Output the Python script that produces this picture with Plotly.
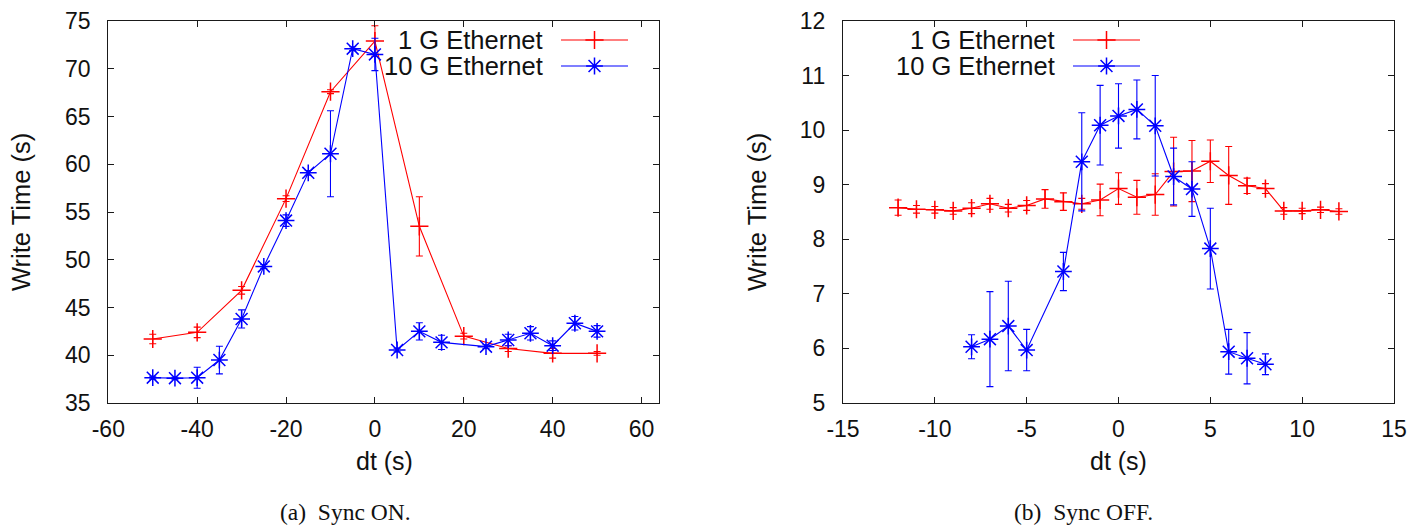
import plotly.graph_objects as go

# ---------------- data: (a) Sync ON ----------------
on_1g_dt = [-50, -40, -30, -20, -10, 0, 10, 20, 30, 40, 50]
on_1g_t = [41.7, 42.4, 46.8, 56.4, 67.6, 72.9, 53.5, 42.0, 40.7, 40.2, 40.2]
on_1g_err = [0.5, 0.55, 0.4, 0.3, 0.2, 1.6, 3.1, 0.3, 0.3, 0.5, 0.2]

on_10g_dt = [-50, -45, -40, -35, -30, -25, -20, -15, -10, -5, 0, 5, 10, 15, 25, 30, 35, 40, 45, 50]
on_10g_t = [37.65, 37.6, 37.65, 39.5, 43.8, 49.3, 54.1, 59.1, 61.1, 72.1, 71.5, 40.55, 42.5, 41.35,
            40.9, 41.6, 42.3, 41.0, 43.35, 42.5]
on_10g_err = [0.15, 0.1, 1.1, 1.45, 0.95, 0.2, 0.6, 0.25, 4.5, 0.2, 1.7, 0.2, 0.9, 0.75,
              0.2, 0.6, 0.7, 0.5, 0.7, 0.6]

# ---------------- data: (b) Sync OFF ----------------
off_1g_dt = list(range(-12, 13))
off_1g_t = [8.58, 8.55, 8.54, 8.52, 8.57, 8.65, 8.57, 8.62, 8.74, 8.69, 8.65, 8.72, 8.93,
            8.77, 8.82, 9.24, 9.25, 9.43, 9.17, 8.98, 8.93, 8.52, 8.52, 8.54, 8.51]
off_1g_err = [0.14, 0.07, 0.06, 0.06, 0.1, 0.1, 0.07, 0.09, 0.17, 0.16, 0.1, 0.29, 0.29,
              0.31, 0.38, 0.63, 0.56, 0.39, 0.53, 0.14, 0.09, 0.06, 0.05, 0.05, 0.05]

off_10g_dt = [-8, -7, -6, -5, -3, -2, -1, 0, 1, 2, 3, 4, 5, 6, 7, 8]
off_10g_t = [6.03, 6.17, 6.41, 5.97, 7.41, 9.42, 10.09, 10.26, 10.38, 10.08, 9.15, 8.92,
             7.83, 5.94, 5.82, 5.71]
off_10g_err = [0.22, 0.87, 0.82, 0.38, 0.35, 0.9, 0.73, 0.59, 0.54, 0.92, 0.52, 0.5,
               0.74, 0.41, 0.47, 0.19]

series_names = ["1 G Ethernet", "10 G Ethernet"]
x_ticks_a = [-60, -40, -20, 0, 20, 40, 60]
x_ticktext_a = ["-60", "-40", "-20", "0", "20", "40", "60"]
y_ticks_a = [35, 40, 45, 50, 55, 60, 65, 70, 75]
x_ticks_b = [-15, -10, -5, 0, 5, 10, 15]
x_ticktext_b = ["-15", "-10", "-5", "0", "5", "10", "15"]
y_ticks_b = [5, 6, 7, 8, 9, 10, 11, 12]
captions = ["(a)\u2002Sync ON.", "(b)\u2002Sync OFF."]
x_title = "dt (s)"
y_title = "Write Time (s)"

RED = "#ff0000"
BLUE = "#0000ff"
W, H = 1428, 530


def px_x(p):
    return p / W


def px_y(p):
    return (H - p) / H


fig = go.Figure()

SYM = {RED: ("cross-thin", 13), BLUE: ("asterisk", 14)}


def add_series(x, y, err, color, xa, ya):
    sym, size = SYM[color]
    fig.add_trace(go.Scatter(
        x=x, y=y, mode="lines+markers", xaxis=xa, yaxis=ya, showlegend=False,
        line=dict(color=color, width=1.1),
        marker=dict(symbol=sym, size=size, color=color,
                    line=dict(color=color, width=1.5)),
        error_y=dict(type="data", array=err, visible=True, color=color,
                     thickness=1.1, width=3.5),
    ))


add_series(on_1g_dt, on_1g_t, on_1g_err, RED, "x", "y")
add_series(on_10g_dt, on_10g_t, on_10g_err, BLUE, "x", "y")
add_series(off_1g_dt, off_1g_t, off_1g_err, RED, "x2", "y2")
add_series(off_10g_dt, off_10g_t, off_10g_err, BLUE, "x2", "y2")

# legend samples (drawn on an overlay axis in paper fractions)
leg_rows = [40, 66]
leg_lines = [(561, 628), (1073, 1140)]
for (x0, x1) in leg_lines:
    for name, row, color in zip(series_names, leg_rows, [RED, BLUE]):
        sym, size = SYM[color]
        fig.add_trace(go.Scatter(
            x=[px_x(x0), px_x(x1)], y=[px_y(row), px_y(row)], mode="lines",
            xaxis="x3", yaxis="y3", showlegend=False, hoverinfo="skip",
            line=dict(color=color, width=1.1)))
        fig.add_trace(go.Scatter(
            x=[px_x((x0 + x1) / 2)], y=[px_y(row)], mode="markers",
            xaxis="x3", yaxis="y3", showlegend=False, hoverinfo="skip",
            marker=dict(symbol=sym, size=size, color=color, line=dict(color=color, width=1.5))))

FONT = "Liberation Sans, Arial, Helvetica, sans-serif"
axis_common = dict(
    showline=True, linecolor="#1a1a1a", linewidth=1.3, mirror="allticks",
    ticks="inside", ticklen=6, tickwidth=1, tickcolor="#1a1a1a",
    showgrid=False, zeroline=False, automargin=False,
    tickfont=dict(family=FONT, size=23, color="#111"),
)

ydom = [px_y(403), px_y(21)]
fig.update_layout(
    width=W, height=H, margin=dict(l=0, r=0, t=0, b=0, pad=0, autoexpand=False),
    paper_bgcolor="white", plot_bgcolor="rgba(0,0,0,0)", showlegend=False,
    xaxis=dict(domain=[px_x(108.3), px_x(659.3)], range=[-60, 64], tickvals=x_ticks_a,
               ticktext=x_ticktext_a, anchor="y", ticklabelstandoff=5, **axis_common),
    yaxis=dict(domain=ydom, range=[35, 75], tickvals=y_ticks_a, anchor="x",
               ticklabelstandoff=12, **axis_common),
    xaxis2=dict(domain=[px_x(843), px_x(1394)], range=[-15, 15], tickvals=x_ticks_b,
                ticktext=x_ticktext_b, anchor="y2", ticklabelstandoff=5, **axis_common),
    yaxis2=dict(domain=ydom, range=[5, 12], tickvals=y_ticks_b, anchor="x2",
                ticklabelstandoff=12, **axis_common),
    xaxis3=dict(domain=[0, 1], range=[0, 1], visible=False, fixedrange=True, anchor="y3",
                automargin=False),
    yaxis3=dict(domain=[0, 1], range=[0, 1], visible=False, fixedrange=True, anchor="x3",
                automargin=False),
)

ann = []
# legend texts
for xr in (545, 1057):
    for name, row in zip(series_names, leg_rows):
        ann.append(dict(x=px_x(xr), y=px_y(row), xref="paper", yref="paper", text=name,
                        showarrow=False, xanchor="right", yanchor="middle",
                        font=dict(family=FONT, size=25.5, color="#111")))
# y titles
for xc in (21, 757):
    ann.append(dict(x=px_x(xc), y=px_y(212), xref="paper", yref="paper", text=y_title,
                    showarrow=False, textangle=-90, xanchor="center", yanchor="middle",
                    font=dict(family=FONT, size=25.5, color="#111")))
# x titles
for xc in (384, 1118):
    ann.append(dict(x=px_x(xc), y=px_y(461), xref="paper", yref="paper", text=x_title,
                    showarrow=False, xanchor="center", yanchor="middle",
                    font=dict(family=FONT, size=25, color="#111")))
# captions
for xc, cap in zip((345, 1083), captions):
    ann.append(dict(x=px_x(xc), y=px_y(512), xref="paper", yref="paper", text=cap,
                    showarrow=False, xanchor="center", yanchor="middle",
                    font=dict(family="Liberation Serif, DejaVu Serif, serif", size=23.5, color="#111")))
fig.update_layout(annotations=ann)

fig.write_html("out.html")
